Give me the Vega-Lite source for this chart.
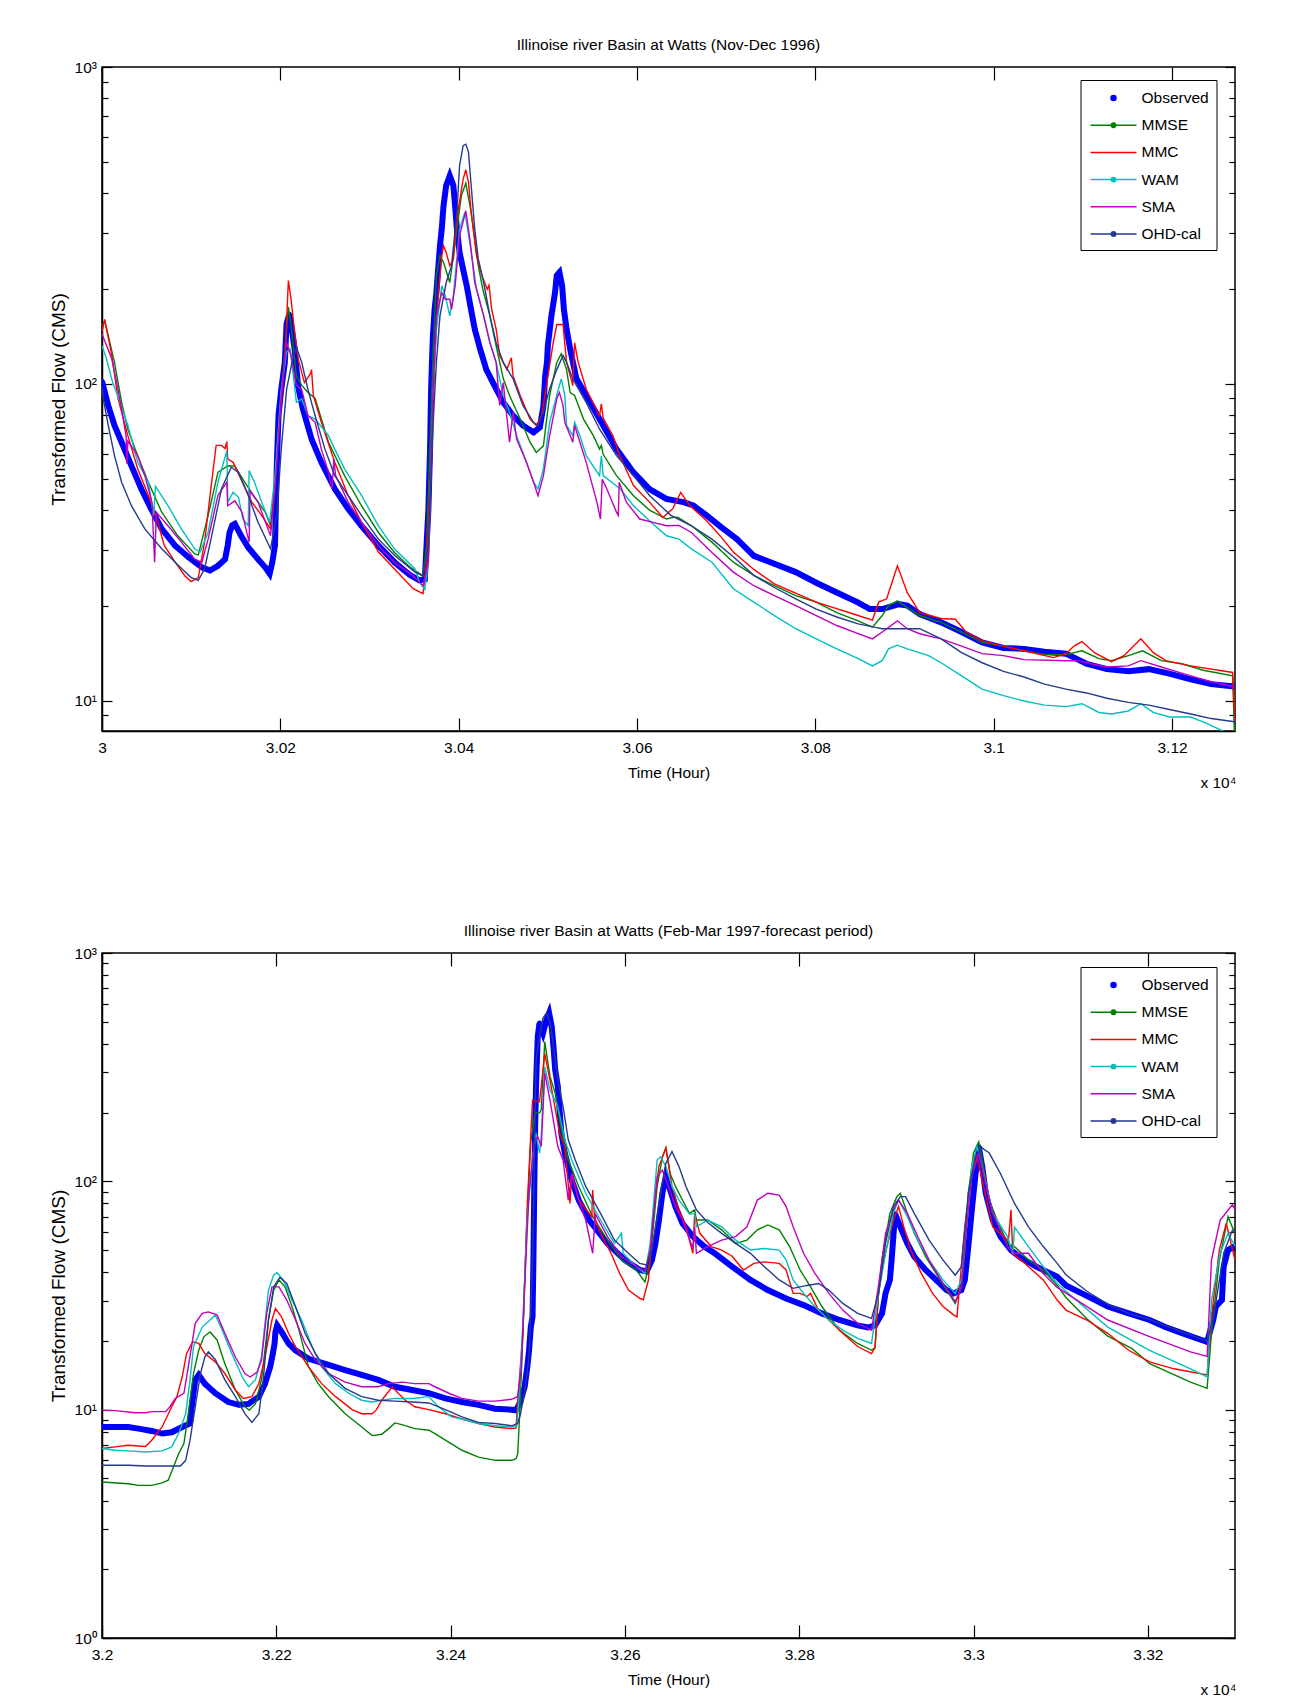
{
"$schema": "https://vega.github.io/schema/vega-lite/v6.json",
"background": "white",
"padding": {"left": 48, "top": 36, "right": 5, "bottom": 5},
"spacing": 130,
"resolve": {"scale": {"x": "independent", "y": "independent", "color": "independent"}, "legend": {"color": "independent"}},
"datasets": {
"top": [
{"s":"Observed","t":30000,"v":102},{"s":"Observed","t":30007,"v":85.5},{"s":"Observed","t":30014,"v":74},{"s":"Observed","t":30022,"v":65.5},{"s":"Observed","t":30033,"v":55.2},{"s":"Observed","t":30044,"v":46.7},{"s":"Observed","t":30055,"v":40.4},{"s":"Observed","t":30067,"v":34.9},{"s":"Observed","t":30082,"v":30.9},{"s":"Observed","t":30097,"v":28.4},{"s":"Observed","t":30112,"v":26.4},{"s":"Observed","t":30121,"v":25.8},{"s":"Observed","t":30130,"v":26.7},{"s":"Observed","t":30138,"v":28},{"s":"Observed","t":30141,"v":31},{"s":"Observed","t":30143,"v":34},{"s":"Observed","t":30146,"v":35.8},{"s":"Observed","t":30149,"v":36.2},{"s":"Observed","t":30156,"v":33.2},{"s":"Observed","t":30164,"v":30.5},{"s":"Observed","t":30175,"v":28},{"s":"Observed","t":30183,"v":26.4},{"s":"Observed","t":30188,"v":25.2},{"s":"Observed","t":30191,"v":27.4},{"s":"Observed","t":30194,"v":31},{"s":"Observed","t":30196,"v":55},{"s":"Observed","t":30198,"v":80},{"s":"Observed","t":30201,"v":96},{"s":"Observed","t":30205,"v":117},{"s":"Observed","t":30207,"v":155},{"s":"Observed","t":30210,"v":166},{"s":"Observed","t":30213,"v":148},{"s":"Observed","t":30216,"v":129},{"s":"Observed","t":30220,"v":98},{"s":"Observed","t":30225,"v":84},{"s":"Observed","t":30235,"v":67},{"s":"Observed","t":30246,"v":56.6},{"s":"Observed","t":30261,"v":46.7},{"s":"Observed","t":30276,"v":40.4},{"s":"Observed","t":30291,"v":35.7},{"s":"Observed","t":30310,"v":30.9},{"s":"Observed","t":30328,"v":27.4},{"s":"Observed","t":30345,"v":25},{"s":"Observed","t":30356,"v":24},{"s":"Observed","t":30362,"v":24.2},{"s":"Observed","t":30366,"v":40},{"s":"Observed","t":30368,"v":64},{"s":"Observed","t":30369,"v":94},{"s":"Observed","t":30370,"v":117},{"s":"Observed","t":30371,"v":140},{"s":"Observed","t":30373,"v":172},{"s":"Observed","t":30375,"v":194},{"s":"Observed","t":30377,"v":230},{"s":"Observed","t":30379,"v":273},{"s":"Observed","t":30381,"v":308},{"s":"Observed","t":30383,"v":365},{"s":"Observed","t":30386,"v":423},{"s":"Observed","t":30390,"v":454},{"s":"Observed","t":30394,"v":423},{"s":"Observed","t":30396,"v":365},{"s":"Observed","t":30398,"v":308},{"s":"Observed","t":30401,"v":260},{"s":"Observed","t":30405,"v":230},{"s":"Observed","t":30409,"v":204},{"s":"Observed","t":30413,"v":177},{"s":"Observed","t":30418,"v":149},{"s":"Observed","t":30424,"v":129},{"s":"Observed","t":30431,"v":111},{"s":"Observed","t":30440,"v":99},{"s":"Observed","t":30450,"v":87.5},{"s":"Observed","t":30461,"v":79.4},{"s":"Observed","t":30472,"v":74},{"s":"Observed","t":30484,"v":70.4},{"s":"Observed","t":30491,"v":73},{"s":"Observed","t":30495,"v":85},{"s":"Observed","t":30497,"v":106},{"s":"Observed","t":30499,"v":117},{"s":"Observed","t":30500,"v":132},{"s":"Observed","t":30504,"v":164},{"s":"Observed","t":30508,"v":194},{"s":"Observed","t":30510,"v":220},{"s":"Observed","t":30513,"v":225},{"s":"Observed","t":30516,"v":204},{"s":"Observed","t":30518,"v":172},{"s":"Observed","t":30521,"v":149},{"s":"Observed","t":30525,"v":129},{"s":"Observed","t":30532,"v":104},{"s":"Observed","t":30543,"v":92},{"s":"Observed","t":30558,"v":77.5},{"s":"Observed","t":30577,"v":62.3},{"s":"Observed","t":30596,"v":52.6},{"s":"Observed","t":30614,"v":46.6},{"s":"Observed","t":30633,"v":43.4},{"s":"Observed","t":30652,"v":42.4},{"s":"Observed","t":30663,"v":41.4},{"s":"Observed","t":30678,"v":38.5},{"s":"Observed","t":30694,"v":35.4},{"s":"Observed","t":30712,"v":32.4},{"s":"Observed","t":30731,"v":28.7},{"s":"Observed","t":30754,"v":27.1},{"s":"Observed","t":30778,"v":25.5},{"s":"Observed","t":30801,"v":23.6},{"s":"Observed","t":30824,"v":22},{"s":"Observed","t":30847,"v":20.5},{"s":"Observed","t":30861,"v":19.5},{"s":"Observed","t":30875,"v":19.5},{"s":"Observed","t":30894,"v":20.2},{"s":"Observed","t":30903,"v":20},{"s":"Observed","t":30917,"v":18.8},{"s":"Observed","t":30941,"v":17.7},{"s":"Observed","t":30964,"v":16.5},{"s":"Observed","t":30987,"v":15.3},{"s":"Observed","t":31011,"v":14.7},{"s":"Observed","t":31034,"v":14.6},{"s":"Observed","t":31057,"v":14.3},{"s":"Observed","t":31081,"v":14.1},{"s":"Observed","t":31104,"v":13.1},{"s":"Observed","t":31127,"v":12.6},{"s":"Observed","t":31151,"v":12.4},{"s":"Observed","t":31174,"v":12.6},{"s":"Observed","t":31197,"v":12.2},{"s":"Observed","t":31221,"v":11.7},{"s":"Observed","t":31244,"v":11.3},{"s":"Observed","t":31270,"v":11.1},
{"s":"MMSE","t":30000,"v":152},{"s":"MMSE","t":30003,"v":158},{"s":"MMSE","t":30007,"v":142},{"s":"MMSE","t":30014,"v":117},{"s":"MMSE","t":30022,"v":87.5},{"s":"MMSE","t":30029,"v":72},{"s":"MMSE","t":30040,"v":59.4},{"s":"MMSE","t":30052,"v":49},{"s":"MMSE","t":30067,"v":39.4},{"s":"MMSE","t":30085,"v":33.2},{"s":"MMSE","t":30104,"v":29.1},{"s":"MMSE","t":30108,"v":28.9},{"s":"MMSE","t":30119,"v":38.5},{"s":"MMSE","t":30130,"v":52.6},{"s":"MMSE","t":30141,"v":55.2},{"s":"MMSE","t":30149,"v":55},{"s":"MMSE","t":30160,"v":49},{"s":"MMSE","t":30171,"v":44},{"s":"MMSE","t":30183,"v":39.4},{"s":"MMSE","t":30189,"v":35.7},{"s":"MMSE","t":30194,"v":49},{"s":"MMSE","t":30199,"v":79},{"s":"MMSE","t":30205,"v":126},{"s":"MMSE","t":30209,"v":175},{"s":"MMSE","t":30212,"v":153},{"s":"MMSE","t":30218,"v":106},{"s":"MMSE","t":30224,"v":99},{"s":"MMSE","t":30231,"v":94},{"s":"MMSE","t":30239,"v":90},{"s":"MMSE","t":30254,"v":65.5},{"s":"MMSE","t":30272,"v":51.4},{"s":"MMSE","t":30291,"v":41.3},{"s":"MMSE","t":30310,"v":34},{"s":"MMSE","t":30328,"v":29.4},{"s":"MMSE","t":30345,"v":26.5},{"s":"MMSE","t":30360,"v":24.8},{"s":"MMSE","t":30364,"v":31},{"s":"MMSE","t":30371,"v":117},{"s":"MMSE","t":30375,"v":220},{"s":"MMSE","t":30379,"v":254},{"s":"MMSE","t":30383,"v":242},{"s":"MMSE","t":30390,"v":209},{"s":"MMSE","t":30398,"v":308},{"s":"MMSE","t":30403,"v":393},{"s":"MMSE","t":30408,"v":430},{"s":"MMSE","t":30414,"v":348},{"s":"MMSE","t":30422,"v":236},{"s":"MMSE","t":30427,"v":199},{"s":"MMSE","t":30435,"v":164},{"s":"MMSE","t":30442,"v":132},{"s":"MMSE","t":30450,"v":104},{"s":"MMSE","t":30457,"v":92},{"s":"MMSE","t":30469,"v":77.5},{"s":"MMSE","t":30480,"v":65.5},{"s":"MMSE","t":30487,"v":60.8},{"s":"MMSE","t":30495,"v":63.8},{"s":"MMSE","t":30502,"v":92},{"s":"MMSE","t":30510,"v":117},{"s":"MMSE","t":30515,"v":124.5},{"s":"MMSE","t":30521,"v":111},{"s":"MMSE","t":30525,"v":94},{"s":"MMSE","t":30530,"v":92},{"s":"MMSE","t":30540,"v":77.5},{"s":"MMSE","t":30551,"v":68.7},{"s":"MMSE","t":30558,"v":62.3},{"s":"MMSE","t":30560,"v":64},{"s":"MMSE","t":30562,"v":60},{"s":"MMSE","t":30577,"v":51.4},{"s":"MMSE","t":30596,"v":44.4},{"s":"MMSE","t":30614,"v":40},{"s":"MMSE","t":30633,"v":37.5},{"s":"MMSE","t":30642,"v":38},{"s":"MMSE","t":30646,"v":37.9},{"s":"MMSE","t":30661,"v":35.7},{"s":"MMSE","t":30684,"v":31.7},{"s":"MMSE","t":30708,"v":27.4},{"s":"MMSE","t":30731,"v":24.9},{"s":"MMSE","t":30754,"v":23.1},{"s":"MMSE","t":30778,"v":21.5},{"s":"MMSE","t":30801,"v":20.5},{"s":"MMSE","t":30824,"v":19},{"s":"MMSE","t":30848,"v":17.9},{"s":"MMSE","t":30864,"v":17.1},{"s":"MMSE","t":30875,"v":18.6},{"s":"MMSE","t":30882,"v":20},{"s":"MMSE","t":30892,"v":20.7},{"s":"MMSE","t":30903,"v":19.7},{"s":"MMSE","t":30917,"v":18.6},{"s":"MMSE","t":30941,"v":17.7},{"s":"MMSE","t":30964,"v":16.5},{"s":"MMSE","t":30987,"v":15.3},{"s":"MMSE","t":31011,"v":14.9},{"s":"MMSE","t":31034,"v":14.4},{"s":"MMSE","t":31057,"v":14},{"s":"MMSE","t":31081,"v":14},{"s":"MMSE","t":31099,"v":14.4},{"s":"MMSE","t":31118,"v":13.6},{"s":"MMSE","t":31132,"v":13.4},{"s":"MMSE","t":31151,"v":13.9},{"s":"MMSE","t":31167,"v":14.4},{"s":"MMSE","t":31188,"v":13.4},{"s":"MMSE","t":31211,"v":13.1},{"s":"MMSE","t":31235,"v":12.5},{"s":"MMSE","t":31268,"v":12},{"s":"MMSE","t":31270.5,"v":7},
{"s":"MMC","t":30000,"v":146},{"s":"MMC","t":30003,"v":160},{"s":"MMC","t":30011,"v":123},{"s":"MMC","t":30018,"v":90},{"s":"MMC","t":30029,"v":68.7},{"s":"MMC","t":30040,"v":54},{"s":"MMC","t":30052,"v":44.5},{"s":"MMC","t":30063,"v":36.6},{"s":"MMC","t":30067,"v":33},{"s":"MMC","t":30070,"v":30.9},{"s":"MMC","t":30082,"v":27.4},{"s":"MMC","t":30093,"v":24.8},{"s":"MMC","t":30100,"v":23.8},{"s":"MMC","t":30108,"v":24.5},{"s":"MMC","t":30115,"v":31.7},{"s":"MMC","t":30123,"v":49},{"s":"MMC","t":30128,"v":64},{"s":"MMC","t":30134,"v":64},{"s":"MMC","t":30138,"v":62.6},{"s":"MMC","t":30140,"v":65.8},{"s":"MMC","t":30141,"v":58},{"s":"MMC","t":30147,"v":56.6},{"s":"MMC","t":30156,"v":50},{"s":"MMC","t":30168,"v":42.4},{"s":"MMC","t":30179,"v":38.5},{"s":"MMC","t":30189,"v":34.9},{"s":"MMC","t":30194,"v":49},{"s":"MMC","t":30199,"v":75.7},{"s":"MMC","t":30205,"v":117},{"s":"MMC","t":30209,"v":212},{"s":"MMC","t":30212,"v":185},{"s":"MMC","t":30216,"v":146},{"s":"MMC","t":30220,"v":120},{"s":"MMC","t":30227,"v":101},{"s":"MMC","t":30234,"v":108},{"s":"MMC","t":30235,"v":111},{"s":"MMC","t":30237,"v":92},{"s":"MMC","t":30246,"v":75.7},{"s":"MMC","t":30261,"v":56.6},{"s":"MMC","t":30276,"v":44.5},{"s":"MMC","t":30291,"v":36.6},{"s":"MMC","t":30310,"v":29.5},{"s":"MMC","t":30328,"v":26.1},{"s":"MMC","t":30349,"v":22.6},{"s":"MMC","t":30360,"v":21.8},{"s":"MMC","t":30364,"v":27.4},{"s":"MMC","t":30369,"v":56.6},{"s":"MMC","t":30373,"v":117},{"s":"MMC","t":30377,"v":190},{"s":"MMC","t":30381,"v":254},{"s":"MMC","t":30383,"v":273},{"s":"MMC","t":30386,"v":260},{"s":"MMC","t":30390,"v":236},{"s":"MMC","t":30394,"v":247},{"s":"MMC","t":30399,"v":348},{"s":"MMC","t":30405,"v":443},{"s":"MMC","t":30408,"v":474},{"s":"MMC","t":30411,"v":433},{"s":"MMC","t":30414,"v":348},{"s":"MMC","t":30420,"v":254},{"s":"MMC","t":30426,"v":220},{"s":"MMC","t":30432,"v":199},{"s":"MMC","t":30434,"v":205},{"s":"MMC","t":30437,"v":172},{"s":"MMC","t":30442,"v":149},{"s":"MMC","t":30446,"v":123},{"s":"MMC","t":30454,"v":111},{"s":"MMC","t":30459,"v":121},{"s":"MMC","t":30461,"v":106},{"s":"MMC","t":30469,"v":92},{"s":"MMC","t":30480,"v":77.5},{"s":"MMC","t":30487,"v":73.9},{"s":"MMC","t":30493,"v":79.4},{"s":"MMC","t":30499,"v":101},{"s":"MMC","t":30506,"v":135},{"s":"MMC","t":30510,"v":154},{"s":"MMC","t":30517,"v":154},{"s":"MMC","t":30521,"v":117},{"s":"MMC","t":30528,"v":98.8},{"s":"MMC","t":30530,"v":135},{"s":"MMC","t":30534,"v":117},{"s":"MMC","t":30543,"v":96.4},{"s":"MMC","t":30558,"v":79.4},{"s":"MMC","t":30560,"v":86.5},{"s":"MMC","t":30562,"v":78},{"s":"MMC","t":30573,"v":68.7},{"s":"MMC","t":30580,"v":60},{"s":"MMC","t":30596,"v":47.8},{"s":"MMC","t":30614,"v":42.4},{"s":"MMC","t":30629,"v":37.9},{"s":"MMC","t":30640,"v":40.4},{"s":"MMC","t":30649,"v":45.5},{"s":"MMC","t":30659,"v":41.4},{"s":"MMC","t":30678,"v":37},{"s":"MMC","t":30694,"v":33},{"s":"MMC","t":30708,"v":29.5},{"s":"MMC","t":30731,"v":26},{"s":"MMC","t":30754,"v":23.4},{"s":"MMC","t":30801,"v":20.5},{"s":"MMC","t":30848,"v":18.6},{"s":"MMC","t":30864,"v":18},{"s":"MMC","t":30871,"v":20.5},{"s":"MMC","t":30880,"v":21},{"s":"MMC","t":30892,"v":26.7},{"s":"MMC","t":30903,"v":22},{"s":"MMC","t":30917,"v":19},{"s":"MMC","t":30941,"v":18.2},{"s":"MMC","t":30957,"v":18.1},{"s":"MMC","t":30969,"v":16.5},{"s":"MMC","t":30987,"v":15.5},{"s":"MMC","t":31010,"v":14.9},{"s":"MMC","t":31034,"v":14.4},{"s":"MMC","t":31067,"v":13.7},{"s":"MMC","t":31081,"v":14.1},{"s":"MMC","t":31090,"v":14.9},{"s":"MMC","t":31099,"v":15.4},{"s":"MMC","t":31113,"v":14.2},{"s":"MMC","t":31132,"v":13.3},{"s":"MMC","t":31146,"v":13.9},{"s":"MMC","t":31165,"v":15.7},{"s":"MMC","t":31179,"v":14.2},{"s":"MMC","t":31193,"v":13.4},{"s":"MMC","t":31221,"v":12.9},{"s":"MMC","t":31268,"v":12.3},{"s":"MMC","t":31270.5,"v":8.6},
{"s":"WAM","t":30000,"v":132},{"s":"WAM","t":30005,"v":120},{"s":"WAM","t":30012,"v":101},{"s":"WAM","t":30015,"v":96},{"s":"WAM","t":30024,"v":81.5},{"s":"WAM","t":30029,"v":74},{"s":"WAM","t":30040,"v":56.6},{"s":"WAM","t":30052,"v":49},{"s":"WAM","t":30058,"v":38.5},{"s":"WAM","t":30060,"v":47.5},{"s":"WAM","t":30074,"v":41.3},{"s":"WAM","t":30089,"v":34.9},{"s":"WAM","t":30104,"v":30.2},{"s":"WAM","t":30110,"v":29.5},{"s":"WAM","t":30119,"v":34},{"s":"WAM","t":30130,"v":49},{"s":"WAM","t":30140,"v":61.6},{"s":"WAM","t":30141,"v":42.4},{"s":"WAM","t":30147,"v":45.5},{"s":"WAM","t":30153,"v":44},{"s":"WAM","t":30158,"v":37.5},{"s":"WAM","t":30164,"v":35.7},{"s":"WAM","t":30165,"v":53.3},{"s":"WAM","t":30171,"v":49},{"s":"WAM","t":30179,"v":42.4},{"s":"WAM","t":30188,"v":36.6},{"s":"WAM","t":30194,"v":51.4},{"s":"WAM","t":30201,"v":96},{"s":"WAM","t":30207,"v":126},{"s":"WAM","t":30211,"v":129},{"s":"WAM","t":30218,"v":87.5},{"s":"WAM","t":30224,"v":89.8},{"s":"WAM","t":30231,"v":79.4},{"s":"WAM","t":30239,"v":77.5},{"s":"WAM","t":30254,"v":68.7},{"s":"WAM","t":30261,"v":62.3},{"s":"WAM","t":30272,"v":54},{"s":"WAM","t":30291,"v":44.5},{"s":"WAM","t":30310,"v":35.7},{"s":"WAM","t":30328,"v":30.2},{"s":"WAM","t":30351,"v":26.1},{"s":"WAM","t":30356,"v":23.7},{"s":"WAM","t":30362,"v":22.5},{"s":"WAM","t":30366,"v":27.4},{"s":"WAM","t":30371,"v":92},{"s":"WAM","t":30375,"v":149},{"s":"WAM","t":30381,"v":204},{"s":"WAM","t":30385,"v":190},{"s":"WAM","t":30390,"v":164},{"s":"WAM","t":30394,"v":190},{"s":"WAM","t":30401,"v":308},{"s":"WAM","t":30407,"v":348},{"s":"WAM","t":30413,"v":273},{"s":"WAM","t":30420,"v":199},{"s":"WAM","t":30428,"v":164},{"s":"WAM","t":30435,"v":135},{"s":"WAM","t":30442,"v":117},{"s":"WAM","t":30450,"v":92},{"s":"WAM","t":30457,"v":81.5},{"s":"WAM","t":30465,"v":68.7},{"s":"WAM","t":30476,"v":56.6},{"s":"WAM","t":30484,"v":49},{"s":"WAM","t":30489,"v":46.7},{"s":"WAM","t":30495,"v":54},{"s":"WAM","t":30502,"v":75.7},{"s":"WAM","t":30510,"v":92},{"s":"WAM","t":30515,"v":103.8},{"s":"WAM","t":30519,"v":92},{"s":"WAM","t":30521,"v":74},{"s":"WAM","t":30528,"v":68.7},{"s":"WAM","t":30530,"v":75.7},{"s":"WAM","t":30536,"v":68.7},{"s":"WAM","t":30543,"v":59.4},{"s":"WAM","t":30558,"v":51.4},{"s":"WAM","t":30560,"v":59.4},{"s":"WAM","t":30562,"v":51.4},{"s":"WAM","t":30581,"v":46.7},{"s":"WAM","t":30596,"v":41.3},{"s":"WAM","t":30614,"v":37},{"s":"WAM","t":30633,"v":33.2},{"s":"WAM","t":30647,"v":32.4},{"s":"WAM","t":30661,"v":30.2},{"s":"WAM","t":30684,"v":27.4},{"s":"WAM","t":30708,"v":22.6},{"s":"WAM","t":30731,"v":20.5},{"s":"WAM","t":30754,"v":18.6},{"s":"WAM","t":30778,"v":16.9},{"s":"WAM","t":30801,"v":15.7},{"s":"WAM","t":30824,"v":14.6},{"s":"WAM","t":30848,"v":13.6},{"s":"WAM","t":30864,"v":12.9},{"s":"WAM","t":30875,"v":13.4},{"s":"WAM","t":30882,"v":14.6},{"s":"WAM","t":30892,"v":15},{"s":"WAM","t":30903,"v":14.6},{"s":"WAM","t":30927,"v":13.9},{"s":"WAM","t":30941,"v":13.2},{"s":"WAM","t":30964,"v":12},{"s":"WAM","t":30987,"v":10.9},{"s":"WAM","t":31011,"v":10.4},{"s":"WAM","t":31034,"v":10},{"s":"WAM","t":31057,"v":9.7},{"s":"WAM","t":31081,"v":9.6},{"s":"WAM","t":31099,"v":9.8},{"s":"WAM","t":31118,"v":9.2},{"s":"WAM","t":31132,"v":9.1},{"s":"WAM","t":31151,"v":9.3},{"s":"WAM","t":31165,"v":9.8},{"s":"WAM","t":31179,"v":9.2},{"s":"WAM","t":31197,"v":8.9},{"s":"WAM","t":31221,"v":8.9},{"s":"WAM","t":31239,"v":8.5},{"s":"WAM","t":31256,"v":8.06},{"s":"WAM","t":31270,"v":7.6},
{"s":"SMA","t":30000,"v":144},{"s":"SMA","t":30003,"v":137},{"s":"SMA","t":30011,"v":120},{"s":"SMA","t":30018,"v":96},{"s":"SMA","t":30022,"v":83},{"s":"SMA","t":30027,"v":68.7},{"s":"SMA","t":30028,"v":56},{"s":"SMA","t":30029,"v":66},{"s":"SMA","t":30040,"v":59.4},{"s":"SMA","t":30048,"v":51.4},{"s":"SMA","t":30056,"v":42.4},{"s":"SMA","t":30059,"v":27.4},{"s":"SMA","t":30061,"v":39.4},{"s":"SMA","t":30074,"v":35.7},{"s":"SMA","t":30089,"v":31.7},{"s":"SMA","t":30104,"v":28},{"s":"SMA","t":30112,"v":27.4},{"s":"SMA","t":30119,"v":32.4},{"s":"SMA","t":30130,"v":44.5},{"s":"SMA","t":30140,"v":49},{"s":"SMA","t":30141,"v":41.3},{"s":"SMA","t":30149,"v":42.8},{"s":"SMA","t":30157,"v":39.4},{"s":"SMA","t":30165,"v":31.7},{"s":"SMA","t":30166,"v":46},{"s":"SMA","t":30175,"v":42.4},{"s":"SMA","t":30189,"v":33.2},{"s":"SMA","t":30194,"v":46.7},{"s":"SMA","t":30201,"v":92},{"s":"SMA","t":30207,"v":135},{"s":"SMA","t":30212,"v":123},{"s":"SMA","t":30218,"v":99},{"s":"SMA","t":30224,"v":96},{"s":"SMA","t":30231,"v":79.4},{"s":"SMA","t":30239,"v":75.7},{"s":"SMA","t":30246,"v":62.3},{"s":"SMA","t":30254,"v":52.6},{"s":"SMA","t":30258,"v":46.7},{"s":"SMA","t":30260,"v":58},{"s":"SMA","t":30262,"v":51.4},{"s":"SMA","t":30276,"v":42.4},{"s":"SMA","t":30291,"v":36.6},{"s":"SMA","t":30310,"v":30.9},{"s":"SMA","t":30328,"v":27.4},{"s":"SMA","t":30351,"v":24.5},{"s":"SMA","t":30360,"v":23.1},{"s":"SMA","t":30366,"v":27.4},{"s":"SMA","t":30371,"v":92},{"s":"SMA","t":30375,"v":164},{"s":"SMA","t":30381,"v":194},{"s":"SMA","t":30385,"v":185},{"s":"SMA","t":30390,"v":185},{"s":"SMA","t":30392,"v":172},{"s":"SMA","t":30396,"v":204},{"s":"SMA","t":30401,"v":294},{"s":"SMA","t":30408,"v":352},{"s":"SMA","t":30413,"v":280},{"s":"SMA","t":30418,"v":209},{"s":"SMA","t":30428,"v":164},{"s":"SMA","t":30435,"v":135},{"s":"SMA","t":30442,"v":117},{"s":"SMA","t":30446,"v":85.6},{"s":"SMA","t":30450,"v":101},{"s":"SMA","t":30457,"v":65.5},{"s":"SMA","t":30461,"v":81.5},{"s":"SMA","t":30465,"v":66.9},{"s":"SMA","t":30476,"v":56.6},{"s":"SMA","t":30484,"v":49},{"s":"SMA","t":30489,"v":44.4},{"s":"SMA","t":30495,"v":51.4},{"s":"SMA","t":30502,"v":68.7},{"s":"SMA","t":30510,"v":89.8},{"s":"SMA","t":30513,"v":94},{"s":"SMA","t":30517,"v":85.6},{"s":"SMA","t":30519,"v":75.7},{"s":"SMA","t":30528,"v":65.5},{"s":"SMA","t":30530,"v":74},{"s":"SMA","t":30536,"v":65.5},{"s":"SMA","t":30543,"v":56.6},{"s":"SMA","t":30555,"v":42.4},{"s":"SMA","t":30559,"v":37.5},{"s":"SMA","t":30561,"v":50},{"s":"SMA","t":30566,"v":46.7},{"s":"SMA","t":30577,"v":39.4},{"s":"SMA","t":30579,"v":38.5},{"s":"SMA","t":30580,"v":49},{"s":"SMA","t":30588,"v":42.4},{"s":"SMA","t":30603,"v":37.5},{"s":"SMA","t":30618,"v":36.6},{"s":"SMA","t":30633,"v":35.7},{"s":"SMA","t":30647,"v":35.8},{"s":"SMA","t":30661,"v":34},{"s":"SMA","t":30684,"v":29.4},{"s":"SMA","t":30708,"v":25.5},{"s":"SMA","t":30731,"v":23.1},{"s":"SMA","t":30754,"v":21.5},{"s":"SMA","t":30778,"v":20},{"s":"SMA","t":30801,"v":18.6},{"s":"SMA","t":30824,"v":17.3},{"s":"SMA","t":30848,"v":16.3},{"s":"SMA","t":30864,"v":15.7},{"s":"SMA","t":30875,"v":16.5},{"s":"SMA","t":30892,"v":17.9},{"s":"SMA","t":30903,"v":16.9},{"s":"SMA","t":30917,"v":16.3},{"s":"SMA","t":30941,"v":15.7},{"s":"SMA","t":30964,"v":14.9},{"s":"SMA","t":30987,"v":14.1},{"s":"SMA","t":31011,"v":13.9},{"s":"SMA","t":31034,"v":13.5},{"s":"SMA","t":31081,"v":13.4},{"s":"SMA","t":31095,"v":13.4},{"s":"SMA","t":31109,"v":13.1},{"s":"SMA","t":31127,"v":12.8},{"s":"SMA","t":31151,"v":12.9},{"s":"SMA","t":31165,"v":13.4},{"s":"SMA","t":31188,"v":12.8},{"s":"SMA","t":31221,"v":12},{"s":"SMA","t":31244,"v":11.5},{"s":"SMA","t":31270,"v":11.1},
{"s":"OHD-cal","t":30000,"v":98},{"s":"OHD-cal","t":30002,"v":88},{"s":"OHD-cal","t":30007,"v":74},{"s":"OHD-cal","t":30014,"v":59.4},{"s":"OHD-cal","t":30022,"v":49},{"s":"OHD-cal","t":30033,"v":41.3},{"s":"OHD-cal","t":30048,"v":34.9},{"s":"OHD-cal","t":30067,"v":30.2},{"s":"OHD-cal","t":30086,"v":26.7},{"s":"OHD-cal","t":30100,"v":24.5},{"s":"OHD-cal","t":30108,"v":24},{"s":"OHD-cal","t":30115,"v":26.1},{"s":"OHD-cal","t":30123,"v":33.2},{"s":"OHD-cal","t":30134,"v":46.7},{"s":"OHD-cal","t":30145,"v":54.6},{"s":"OHD-cal","t":30153,"v":52.6},{"s":"OHD-cal","t":30164,"v":44.5},{"s":"OHD-cal","t":30175,"v":36.6},{"s":"OHD-cal","t":30189,"v":30.2},{"s":"OHD-cal","t":30196,"v":38.5},{"s":"OHD-cal","t":30201,"v":62.3},{"s":"OHD-cal","t":30207,"v":96},{"s":"OHD-cal","t":30213,"v":117},{"s":"OHD-cal","t":30218,"v":130.6},{"s":"OHD-cal","t":30224,"v":117},{"s":"OHD-cal","t":30231,"v":96},{"s":"OHD-cal","t":30239,"v":79.4},{"s":"OHD-cal","t":30250,"v":62.3},{"s":"OHD-cal","t":30261,"v":51.4},{"s":"OHD-cal","t":30276,"v":44.5},{"s":"OHD-cal","t":30291,"v":38.5},{"s":"OHD-cal","t":30310,"v":32.4},{"s":"OHD-cal","t":30328,"v":28.8},{"s":"OHD-cal","t":30351,"v":25.5},{"s":"OHD-cal","t":30360,"v":24.8},{"s":"OHD-cal","t":30366,"v":30.9},{"s":"OHD-cal","t":30371,"v":72},{"s":"OHD-cal","t":30375,"v":117},{"s":"OHD-cal","t":30379,"v":164},{"s":"OHD-cal","t":30386,"v":209},{"s":"OHD-cal","t":30392,"v":236},{"s":"OHD-cal","t":30398,"v":348},{"s":"OHD-cal","t":30401,"v":489},{"s":"OHD-cal","t":30405,"v":565},{"s":"OHD-cal","t":30408,"v":571},{"s":"OHD-cal","t":30411,"v":539},{"s":"OHD-cal","t":30414,"v":423},{"s":"OHD-cal","t":30418,"v":308},{"s":"OHD-cal","t":30422,"v":248},{"s":"OHD-cal","t":30428,"v":209},{"s":"OHD-cal","t":30435,"v":164},{"s":"OHD-cal","t":30442,"v":135},{"s":"OHD-cal","t":30450,"v":117},{"s":"OHD-cal","t":30461,"v":103.8},{"s":"OHD-cal","t":30472,"v":85.6},{"s":"OHD-cal","t":30484,"v":75.7},{"s":"OHD-cal","t":30489,"v":74},{"s":"OHD-cal","t":30495,"v":81.5},{"s":"OHD-cal","t":30502,"v":96.5},{"s":"OHD-cal","t":30510,"v":111},{"s":"OHD-cal","t":30517,"v":123},{"s":"OHD-cal","t":30521,"v":117},{"s":"OHD-cal","t":30528,"v":103.8},{"s":"OHD-cal","t":30543,"v":87.5},{"s":"OHD-cal","t":30558,"v":72},{"s":"OHD-cal","t":30577,"v":59.4},{"s":"OHD-cal","t":30596,"v":51.4},{"s":"OHD-cal","t":30614,"v":44.5},{"s":"OHD-cal","t":30638,"v":38.5},{"s":"OHD-cal","t":30661,"v":35.7},{"s":"OHD-cal","t":30684,"v":32.4},{"s":"OHD-cal","t":30708,"v":28.5},{"s":"OHD-cal","t":30731,"v":24.9},{"s":"OHD-cal","t":30754,"v":22.8},{"s":"OHD-cal","t":30778,"v":21},{"s":"OHD-cal","t":30801,"v":19.5},{"s":"OHD-cal","t":30824,"v":18.4},{"s":"OHD-cal","t":30848,"v":17.5},{"s":"OHD-cal","t":30866,"v":17.1},{"s":"OHD-cal","t":30875,"v":16.9},{"s":"OHD-cal","t":30894,"v":16.9},{"s":"OHD-cal","t":30917,"v":16.9},{"s":"OHD-cal","t":30941,"v":15.7},{"s":"OHD-cal","t":30964,"v":14.2},{"s":"OHD-cal","t":30987,"v":13.2},{"s":"OHD-cal","t":31011,"v":12.4},{"s":"OHD-cal","t":31034,"v":11.9},{"s":"OHD-cal","t":31057,"v":11.3},{"s":"OHD-cal","t":31081,"v":10.9},{"s":"OHD-cal","t":31104,"v":10.6},{"s":"OHD-cal","t":31127,"v":10.2},{"s":"OHD-cal","t":31151,"v":9.9},{"s":"OHD-cal","t":31174,"v":9.7},{"s":"OHD-cal","t":31197,"v":9.4},{"s":"OHD-cal","t":31221,"v":9.1},{"s":"OHD-cal","t":31244,"v":8.8},{"s":"OHD-cal","t":31270,"v":8.6}
],
"bot": [
{"s":"Observed","t":32000,"v":8.4},{"s":"Observed","t":32015,"v":8.4},{"s":"Observed","t":32030,"v":8.4},{"s":"Observed","t":32042,"v":8.26},{"s":"Observed","t":32057,"v":8.07},{"s":"Observed","t":32069,"v":7.86},{"s":"Observed","t":32080,"v":7.96},{"s":"Observed","t":32092,"v":8.4},{"s":"Observed","t":32101,"v":8.7},{"s":"Observed","t":32103,"v":10.3},{"s":"Observed","t":32105,"v":11.8},{"s":"Observed","t":32107,"v":13.5},{"s":"Observed","t":32111,"v":14.2},{"s":"Observed","t":32118,"v":13},{"s":"Observed","t":32130,"v":11.8},{"s":"Observed","t":32145,"v":10.8},{"s":"Observed","t":32157,"v":10.5},{"s":"Observed","t":32168,"v":10.6},{"s":"Observed","t":32180,"v":11.4},{"s":"Observed","t":32187,"v":13},{"s":"Observed","t":32193,"v":15.4},{"s":"Observed","t":32196,"v":17.6},{"s":"Observed","t":32198,"v":19.5},{"s":"Observed","t":32199,"v":21.9},{"s":"Observed","t":32201,"v":23.4},{"s":"Observed","t":32206,"v":21.9},{"s":"Observed","t":32214,"v":19.5},{"s":"Observed","t":32222,"v":18.2},{"s":"Observed","t":32237,"v":16.7},{"s":"Observed","t":32260,"v":15.7},{"s":"Observed","t":32279,"v":14.9},{"s":"Observed","t":32298,"v":14.2},{"s":"Observed","t":32317,"v":13.5},{"s":"Observed","t":32336,"v":12.6},{"s":"Observed","t":32356,"v":12.2},{"s":"Observed","t":32375,"v":11.8},{"s":"Observed","t":32394,"v":11.2},{"s":"Observed","t":32413,"v":10.8},{"s":"Observed","t":32432,"v":10.5},{"s":"Observed","t":32451,"v":10.1},{"s":"Observed","t":32470,"v":10},{"s":"Observed","t":32475,"v":9.95},{"s":"Observed","t":32480,"v":10.8},{"s":"Observed","t":32485,"v":12.6},{"s":"Observed","t":32488,"v":15.4},{"s":"Observed","t":32490,"v":18.2},{"s":"Observed","t":32492,"v":23},{"s":"Observed","t":32494,"v":25.5},{"s":"Observed","t":32495,"v":45},{"s":"Observed","t":32496,"v":95},{"s":"Observed","t":32497,"v":174},{"s":"Observed","t":32498,"v":260},{"s":"Observed","t":32499,"v":340},{"s":"Observed","t":32500,"v":431},{"s":"Observed","t":32502,"v":493},{"s":"Observed","t":32506,"v":446},{"s":"Observed","t":32510,"v":510},{"s":"Observed","t":32513,"v":546},{"s":"Observed","t":32516,"v":476},{"s":"Observed","t":32518,"v":390},{"s":"Observed","t":32520,"v":308},{"s":"Observed","t":32523,"v":260},{"s":"Observed","t":32525,"v":206},{"s":"Observed","t":32527,"v":163},{"s":"Observed","t":32531,"v":133},{"s":"Observed","t":32535,"v":116},{"s":"Observed","t":32539,"v":101},{"s":"Observed","t":32547,"v":82.8},{"s":"Observed","t":32559,"v":67.7},{"s":"Observed","t":32580,"v":53.5},{"s":"Observed","t":32600,"v":45.2},{"s":"Observed","t":32617,"v":40.9},{"s":"Observed","t":32625,"v":40.3},{"s":"Observed","t":32631,"v":45.2},{"s":"Observed","t":32635,"v":53.5},{"s":"Observed","t":32639,"v":67.7},{"s":"Observed","t":32643,"v":88.7},{"s":"Observed","t":32647,"v":105},{"s":"Observed","t":32652,"v":91.6},{"s":"Observed","t":32658,"v":77.5},{"s":"Observed","t":32666,"v":65.5},{"s":"Observed","t":32678,"v":57.3},{"s":"Observed","t":32691,"v":51.8},{"s":"Observed","t":32703,"v":48.4},{"s":"Observed","t":32723,"v":42.3},{"s":"Observed","t":32744,"v":37},{"s":"Observed","t":32764,"v":33.4},{"s":"Observed","t":32785,"v":30.7},{"s":"Observed","t":32805,"v":28.7},{"s":"Observed","t":32826,"v":26.4},{"s":"Observed","t":32846,"v":24.7},{"s":"Observed","t":32867,"v":23.4},{"s":"Observed","t":32879,"v":22.9},{"s":"Observed","t":32887,"v":23.4},{"s":"Observed","t":32895,"v":26.4},{"s":"Observed","t":32899,"v":32.3},{"s":"Observed","t":32904,"v":37},{"s":"Observed","t":32906,"v":45.2},{"s":"Observed","t":32908,"v":57.3},{"s":"Observed","t":32910,"v":72},{"s":"Observed","t":32916,"v":63.2},{"s":"Observed","t":32924,"v":53.5},{"s":"Observed","t":32932,"v":46.8},{"s":"Observed","t":32945,"v":40.9},{"s":"Observed","t":32957,"v":37},{"s":"Observed","t":32969,"v":33.4},{"s":"Observed","t":32977,"v":32.3},{"s":"Observed","t":32986,"v":33.4},{"s":"Observed","t":32990,"v":37},{"s":"Observed","t":32994,"v":51.8},{"s":"Observed","t":32998,"v":75},{"s":"Observed","t":33002,"v":105},{"s":"Observed","t":33006,"v":142},{"s":"Observed","t":33010,"v":116},{"s":"Observed","t":33014,"v":88.7},{"s":"Observed","t":33022,"v":67.7},{"s":"Observed","t":33031,"v":57.3},{"s":"Observed","t":33043,"v":50},{"s":"Observed","t":33055,"v":46},{"s":"Observed","t":33072,"v":42.3},{"s":"Observed","t":33096,"v":38.2},{"s":"Observed","t":33106,"v":35},{"s":"Observed","t":33130,"v":31.5},{"s":"Observed","t":33154,"v":28.3},{"s":"Observed","t":33178,"v":26.4},{"s":"Observed","t":33202,"v":24.7},{"s":"Observed","t":33220,"v":23},{"s":"Observed","t":33240,"v":21.6},{"s":"Observed","t":33255,"v":20.6},{"s":"Observed","t":33268,"v":19.8},{"s":"Observed","t":33275,"v":24.7},{"s":"Observed","t":33278,"v":28.3},{"s":"Observed","t":33285,"v":30.2},{"s":"Observed","t":33287,"v":42.3},{"s":"Observed","t":33292,"v":50},{"s":"Observed","t":33300,"v":52},
{"s":"MMSE","t":32000,"v":4.82},{"s":"MMSE","t":32030,"v":4.74},{"s":"MMSE","t":32042,"v":4.66},{"s":"MMSE","t":32057,"v":4.66},{"s":"MMSE","t":32069,"v":4.78},{"s":"MMSE","t":32076,"v":4.91},{"s":"MMSE","t":32082,"v":5.61},{"s":"MMSE","t":32088,"v":6.42},{"s":"MMSE","t":32094,"v":7.1},{"s":"MMSE","t":32099,"v":9.6},{"s":"MMSE","t":32105,"v":14.4},{"s":"MMSE","t":32111,"v":18.2},{"s":"MMSE","t":32117,"v":20.9},{"s":"MMSE","t":32124,"v":21.9},{"s":"MMSE","t":32132,"v":20.2},{"s":"MMSE","t":32141,"v":15.9},{"s":"MMSE","t":32153,"v":12.2},{"s":"MMSE","t":32164,"v":10.3},{"s":"MMSE","t":32169,"v":9.95},{"s":"MMSE","t":32176,"v":10.6},{"s":"MMSE","t":32183,"v":13.5},{"s":"MMSE","t":32191,"v":24.7},{"s":"MMSE","t":32197,"v":33.4},{"s":"MMSE","t":32203,"v":37},{"s":"MMSE","t":32210,"v":34.5},{"s":"MMSE","t":32218,"v":28.3},{"s":"MMSE","t":32226,"v":22.3},{"s":"MMSE","t":32237,"v":15.4},{"s":"MMSE","t":32248,"v":13},{"s":"MMSE","t":32260,"v":11.4},{"s":"MMSE","t":32279,"v":9.6},{"s":"MMSE","t":32298,"v":8.4},{"s":"MMSE","t":32310,"v":7.7},{"s":"MMSE","t":32321,"v":7.8},{"s":"MMSE","t":32329,"v":8.26},{"s":"MMSE","t":32336,"v":8.75},{"s":"MMSE","t":32344,"v":8.6},{"s":"MMSE","t":32359,"v":8.26},{"s":"MMSE","t":32375,"v":8.13},{"s":"MMSE","t":32382,"v":7.86},{"s":"MMSE","t":32394,"v":7.35},{"s":"MMSE","t":32413,"v":6.64},{"s":"MMSE","t":32432,"v":6.2},{"s":"MMSE","t":32451,"v":6},{"s":"MMSE","t":32470,"v":6},{"s":"MMSE","t":32475,"v":6.1},{"s":"MMSE","t":32477,"v":6.4},{"s":"MMSE","t":32480,"v":11},{"s":"MMSE","t":32483,"v":22},{"s":"MMSE","t":32487,"v":60},{"s":"MMSE","t":32492,"v":150},{"s":"MMSE","t":32497,"v":200},{"s":"MMSE","t":32502,"v":199},{"s":"MMSE","t":32504,"v":206},{"s":"MMSE","t":32508,"v":409},{"s":"MMSE","t":32514,"v":288},{"s":"MMSE","t":32520,"v":243},{"s":"MMSE","t":32527,"v":168},{"s":"MMSE","t":32535,"v":124},{"s":"MMSE","t":32547,"v":95},{"s":"MMSE","t":32563,"v":70},{"s":"MMSE","t":32580,"v":55.3},{"s":"MMSE","t":32596,"v":45.2},{"s":"MMSE","t":32613,"v":40.9},{"s":"MMSE","t":32623,"v":36.3},{"s":"MMSE","t":32629,"v":45.2},{"s":"MMSE","t":32637,"v":94.9},{"s":"MMSE","t":32643,"v":128},{"s":"MMSE","t":32647,"v":140},{"s":"MMSE","t":32652,"v":108},{"s":"MMSE","t":32658,"v":95},{"s":"MMSE","t":32666,"v":82.8},{"s":"MMSE","t":32674,"v":72.4},{"s":"MMSE","t":32680,"v":75},{"s":"MMSE","t":32682,"v":67.7},{"s":"MMSE","t":32695,"v":67.7},{"s":"MMSE","t":32711,"v":61.3},{"s":"MMSE","t":32727,"v":53.5},{"s":"MMSE","t":32740,"v":55.3},{"s":"MMSE","t":32752,"v":61.3},{"s":"MMSE","t":32764,"v":64.4},{"s":"MMSE","t":32777,"v":61.3},{"s":"MMSE","t":32789,"v":51.8},{"s":"MMSE","t":32801,"v":40.9},{"s":"MMSE","t":32813,"v":34.5},{"s":"MMSE","t":32826,"v":28.3},{"s":"MMSE","t":32846,"v":22.3},{"s":"MMSE","t":32867,"v":19.5},{"s":"MMSE","t":32883,"v":18.2},{"s":"MMSE","t":32887,"v":18.7},{"s":"MMSE","t":32891,"v":32.3},{"s":"MMSE","t":32895,"v":45.2},{"s":"MMSE","t":32904,"v":72.4},{"s":"MMSE","t":32912,"v":85.7},{"s":"MMSE","t":32916,"v":88.7},{"s":"MMSE","t":32924,"v":72.4},{"s":"MMSE","t":32932,"v":59.2},{"s":"MMSE","t":32945,"v":46.8},{"s":"MMSE","t":32957,"v":39.5},{"s":"MMSE","t":32969,"v":33.4},{"s":"MMSE","t":32979,"v":29.2},{"s":"MMSE","t":32986,"v":34.3},{"s":"MMSE","t":32990,"v":48.4},{"s":"MMSE","t":32994,"v":88.7},{"s":"MMSE","t":33000,"v":133},{"s":"MMSE","t":33006,"v":149},{"s":"MMSE","t":33010,"v":124},{"s":"MMSE","t":33018,"v":82.8},{"s":"MMSE","t":33027,"v":67.7},{"s":"MMSE","t":33039,"v":53.5},{"s":"MMSE","t":33047,"v":51.8},{"s":"MMSE","t":33063,"v":45.2},{"s":"MMSE","t":33080,"v":40.9},{"s":"MMSE","t":33096,"v":35},{"s":"MMSE","t":33106,"v":31},{"s":"MMSE","t":33130,"v":25},{"s":"MMSE","t":33154,"v":21},{"s":"MMSE","t":33182,"v":18.5},{"s":"MMSE","t":33202,"v":15.9},{"s":"MMSE","t":33249,"v":13.2},{"s":"MMSE","t":33268,"v":12.4},{"s":"MMSE","t":33273,"v":21.6},{"s":"MMSE","t":33282,"v":45},{"s":"MMSE","t":33292,"v":70},{"s":"MMSE","t":33300,"v":59},
{"s":"MMC","t":32000,"v":6.76},{"s":"MMC","t":32015,"v":6.87},{"s":"MMC","t":32030,"v":6.98},{"s":"MMC","t":32050,"v":6.9},{"s":"MMC","t":32057,"v":7.35},{"s":"MMC","t":32069,"v":8.4},{"s":"MMC","t":32080,"v":10.3},{"s":"MMC","t":32086,"v":11.4},{"s":"MMC","t":32092,"v":13.9},{"s":"MMC","t":32097,"v":17.6},{"s":"MMC","t":32104,"v":19.8},{"s":"MMC","t":32111,"v":19.5},{"s":"MMC","t":32118,"v":17.6},{"s":"MMC","t":32130,"v":16.2},{"s":"MMC","t":32141,"v":14.4},{"s":"MMC","t":32153,"v":12.2},{"s":"MMC","t":32162,"v":11.2},{"s":"MMC","t":32172,"v":11.4},{"s":"MMC","t":32180,"v":13},{"s":"MMC","t":32187,"v":17},{"s":"MMC","t":32195,"v":24.7},{"s":"MMC","t":32199,"v":27.7},{"s":"MMC","t":32206,"v":25.5},{"s":"MMC","t":32214,"v":21.6},{"s":"MMC","t":32222,"v":18.9},{"s":"MMC","t":32237,"v":15.4},{"s":"MMC","t":32252,"v":13},{"s":"MMC","t":32268,"v":11.4},{"s":"MMC","t":32287,"v":10},{"s":"MMC","t":32298,"v":9.6},{"s":"MMC","t":32310,"v":9.6},{"s":"MMC","t":32315,"v":10},{"s":"MMC","t":32321,"v":11},{"s":"MMC","t":32333,"v":12.6},{"s":"MMC","t":32340,"v":11.8},{"s":"MMC","t":32348,"v":11},{"s":"MMC","t":32359,"v":10.3},{"s":"MMC","t":32375,"v":10},{"s":"MMC","t":32394,"v":9.6},{"s":"MMC","t":32413,"v":9.1},{"s":"MMC","t":32432,"v":8.7},{"s":"MMC","t":32451,"v":8.4},{"s":"MMC","t":32470,"v":8.26},{"s":"MMC","t":32475,"v":8.3},{"s":"MMC","t":32477,"v":11},{"s":"MMC","t":32483,"v":21.6},{"s":"MMC","t":32488,"v":80},{"s":"MMC","t":32494,"v":227},{"s":"MMC","t":32502,"v":223},{"s":"MMC","t":32508,"v":362},{"s":"MMC","t":32514,"v":278},{"s":"MMC","t":32525,"v":163},{"s":"MMC","t":32531,"v":142},{"s":"MMC","t":32537,"v":80},{"s":"MMC","t":32539,"v":108},{"s":"MMC","t":32547,"v":82.8},{"s":"MMC","t":32562,"v":70},{"s":"MMC","t":32563,"v":91.6},{"s":"MMC","t":32565,"v":70},{"s":"MMC","t":32572,"v":59.2},{"s":"MMC","t":32584,"v":48.4},{"s":"MMC","t":32594,"v":39.5},{"s":"MMC","t":32604,"v":33.4},{"s":"MMC","t":32617,"v":30.7},{"s":"MMC","t":32621,"v":30.3},{"s":"MMC","t":32627,"v":37},{"s":"MMC","t":32633,"v":75},{"s":"MMC","t":32639,"v":116},{"s":"MMC","t":32647,"v":140},{"s":"MMC","t":32654,"v":95},{"s":"MMC","t":32662,"v":75},{"s":"MMC","t":32670,"v":63.4},{"s":"MMC","t":32678,"v":48.4},{"s":"MMC","t":32680,"v":72},{"s":"MMC","t":32686,"v":59.2},{"s":"MMC","t":32699,"v":51.8},{"s":"MMC","t":32711,"v":50},{"s":"MMC","t":32723,"v":47},{"s":"MMC","t":32736,"v":40.9},{"s":"MMC","t":32748,"v":43.7},{"s":"MMC","t":32760,"v":44.4},{"s":"MMC","t":32777,"v":43.7},{"s":"MMC","t":32785,"v":40.9},{"s":"MMC","t":32793,"v":32.3},{"s":"MMC","t":32801,"v":32.3},{"s":"MMC","t":32809,"v":31.3},{"s":"MMC","t":32813,"v":32.3},{"s":"MMC","t":32822,"v":27.3},{"s":"MMC","t":32834,"v":24.7},{"s":"MMC","t":32850,"v":21.6},{"s":"MMC","t":32867,"v":18.9},{"s":"MMC","t":32883,"v":17.6},{"s":"MMC","t":32887,"v":18.7},{"s":"MMC","t":32891,"v":32.3},{"s":"MMC","t":32897,"v":45.2},{"s":"MMC","t":32908,"v":67.7},{"s":"MMC","t":32914,"v":77.5},{"s":"MMC","t":32920,"v":63.2},{"s":"MMC","t":32928,"v":50},{"s":"MMC","t":32940,"v":39.5},{"s":"MMC","t":32953,"v":32.3},{"s":"MMC","t":32965,"v":28.3},{"s":"MMC","t":32977,"v":26},{"s":"MMC","t":32981,"v":25.5},{"s":"MMC","t":32983,"v":31.3},{"s":"MMC","t":32990,"v":63.2},{"s":"MMC","t":32998,"v":108},{"s":"MMC","t":33004,"v":128},{"s":"MMC","t":33010,"v":101},{"s":"MMC","t":33022,"v":63.2},{"s":"MMC","t":33040,"v":55},{"s":"MMC","t":33043,"v":75},{"s":"MMC","t":33045,"v":48.4},{"s":"MMC","t":33059,"v":43.7},{"s":"MMC","t":33080,"v":37},{"s":"MMC","t":33096,"v":30.2},{"s":"MMC","t":33106,"v":27.3},{"s":"MMC","t":33130,"v":24.7},{"s":"MMC","t":33154,"v":21.6},{"s":"MMC","t":33178,"v":18.2},{"s":"MMC","t":33202,"v":16.2},{"s":"MMC","t":33230,"v":15.1},{"s":"MMC","t":33268,"v":14.2},{"s":"MMC","t":33273,"v":25.5},{"s":"MMC","t":33282,"v":50},{"s":"MMC","t":33290,"v":65.5},{"s":"MMC","t":33300,"v":45.2},
{"s":"WAM","t":32000,"v":6.76},{"s":"WAM","t":32015,"v":6.64},{"s":"WAM","t":32030,"v":6.6},{"s":"WAM","t":32050,"v":6.53},{"s":"WAM","t":32069,"v":6.6},{"s":"WAM","t":32080,"v":6.87},{"s":"WAM","t":32088,"v":7.86},{"s":"WAM","t":32096,"v":9.6},{"s":"WAM","t":32101,"v":13.5},{"s":"WAM","t":32105,"v":18.9},{"s":"WAM","t":32115,"v":23},{"s":"WAM","t":32124,"v":24.7},{"s":"WAM","t":32130,"v":26},{"s":"WAM","t":32138,"v":22.3},{"s":"WAM","t":32149,"v":17.6},{"s":"WAM","t":32161,"v":13.9},{"s":"WAM","t":32168,"v":12.6},{"s":"WAM","t":32176,"v":13.5},{"s":"WAM","t":32183,"v":17},{"s":"WAM","t":32191,"v":33.4},{"s":"WAM","t":32197,"v":38.9},{"s":"WAM","t":32201,"v":39.8},{"s":"WAM","t":32208,"v":37},{"s":"WAM","t":32218,"v":30.2},{"s":"WAM","t":32229,"v":24.7},{"s":"WAM","t":32241,"v":18.9},{"s":"WAM","t":32252,"v":15.4},{"s":"WAM","t":32268,"v":13},{"s":"WAM","t":32283,"v":11.8},{"s":"WAM","t":32298,"v":11},{"s":"WAM","t":32310,"v":10.8},{"s":"WAM","t":32321,"v":11},{"s":"WAM","t":32336,"v":11.2},{"s":"WAM","t":32356,"v":11.2},{"s":"WAM","t":32375,"v":11.4},{"s":"WAM","t":32386,"v":10.3},{"s":"WAM","t":32401,"v":9.3},{"s":"WAM","t":32413,"v":9.1},{"s":"WAM","t":32432,"v":8.7},{"s":"WAM","t":32451,"v":8.5},{"s":"WAM","t":32470,"v":8.4},{"s":"WAM","t":32476,"v":8.5},{"s":"WAM","t":32479,"v":12},{"s":"WAM","t":32483,"v":25},{"s":"WAM","t":32488,"v":70},{"s":"WAM","t":32494,"v":124},{"s":"WAM","t":32498,"v":163},{"s":"WAM","t":32502,"v":133},{"s":"WAM","t":32504,"v":157},{"s":"WAM","t":32508,"v":318},{"s":"WAM","t":32514,"v":252},{"s":"WAM","t":32523,"v":213},{"s":"WAM","t":32531,"v":152},{"s":"WAM","t":32539,"v":124},{"s":"WAM","t":32555,"v":88.7},{"s":"WAM","t":32572,"v":67.7},{"s":"WAM","t":32588,"v":53.5},{"s":"WAM","t":32596,"v":59.2},{"s":"WAM","t":32598,"v":48.4},{"s":"WAM","t":32613,"v":42.3},{"s":"WAM","t":32623,"v":39.5},{"s":"WAM","t":32629,"v":53.5},{"s":"WAM","t":32637,"v":124},{"s":"WAM","t":32641,"v":128},{"s":"WAM","t":32647,"v":116},{"s":"WAM","t":32654,"v":95},{"s":"WAM","t":32662,"v":82.8},{"s":"WAM","t":32674,"v":72},{"s":"WAM","t":32680,"v":72},{"s":"WAM","t":32682,"v":63.2},{"s":"WAM","t":32695,"v":67.7},{"s":"WAM","t":32711,"v":63.2},{"s":"WAM","t":32727,"v":55.3},{"s":"WAM","t":32744,"v":50},{"s":"WAM","t":32760,"v":50.8},{"s":"WAM","t":32777,"v":50},{"s":"WAM","t":32785,"v":45.2},{"s":"WAM","t":32793,"v":37},{"s":"WAM","t":32805,"v":32.3},{"s":"WAM","t":32818,"v":28.3},{"s":"WAM","t":32834,"v":24.7},{"s":"WAM","t":32850,"v":22.3},{"s":"WAM","t":32867,"v":20.5},{"s":"WAM","t":32883,"v":19.5},{"s":"WAM","t":32891,"v":32.3},{"s":"WAM","t":32899,"v":48.4},{"s":"WAM","t":32908,"v":72.4},{"s":"WAM","t":32914,"v":82.8},{"s":"WAM","t":32924,"v":70},{"s":"WAM","t":32936,"v":55.3},{"s":"WAM","t":32949,"v":45.2},{"s":"WAM","t":32965,"v":37},{"s":"WAM","t":32979,"v":32.3},{"s":"WAM","t":32986,"v":37},{"s":"WAM","t":32992,"v":63.2},{"s":"WAM","t":32998,"v":116},{"s":"WAM","t":33004,"v":142},{"s":"WAM","t":33010,"v":116},{"s":"WAM","t":33022,"v":72.4},{"s":"WAM","t":33039,"v":57.3},{"s":"WAM","t":33045,"v":48},{"s":"WAM","t":33047,"v":63},{"s":"WAM","t":33063,"v":51.8},{"s":"WAM","t":33080,"v":42.3},{"s":"WAM","t":33096,"v":35.7},{"s":"WAM","t":33106,"v":33},{"s":"WAM","t":33154,"v":23},{"s":"WAM","t":33202,"v":18.2},{"s":"WAM","t":33249,"v":15.1},{"s":"WAM","t":33268,"v":13.9},{"s":"WAM","t":33273,"v":30},{"s":"WAM","t":33283,"v":48.4},{"s":"WAM","t":33292,"v":59.2},{"s":"WAM","t":33300,"v":52},
{"s":"SMA","t":32000,"v":9.95},{"s":"SMA","t":32015,"v":9.9},{"s":"SMA","t":32038,"v":9.7},{"s":"SMA","t":32050,"v":9.7},{"s":"SMA","t":32057,"v":9.8},{"s":"SMA","t":32073,"v":9.8},{"s":"SMA","t":32078,"v":10.3},{"s":"SMA","t":32084,"v":11.2},{"s":"SMA","t":32094,"v":11.8},{"s":"SMA","t":32099,"v":15.4},{"s":"SMA","t":32107,"v":23.9},{"s":"SMA","t":32115,"v":26.4},{"s":"SMA","t":32122,"v":26.8},{"s":"SMA","t":32132,"v":26},{"s":"SMA","t":32141,"v":21.6},{"s":"SMA","t":32153,"v":17},{"s":"SMA","t":32164,"v":14.4},{"s":"SMA","t":32170,"v":13.9},{"s":"SMA","t":32178,"v":14.6},{"s":"SMA","t":32183,"v":16.5},{"s":"SMA","t":32189,"v":26.4},{"s":"SMA","t":32195,"v":34.5},{"s":"SMA","t":32203,"v":34.5},{"s":"SMA","t":32212,"v":30.2},{"s":"SMA","t":32222,"v":24.7},{"s":"SMA","t":32233,"v":19.5},{"s":"SMA","t":32245,"v":16.5},{"s":"SMA","t":32260,"v":14.4},{"s":"SMA","t":32279,"v":13.2},{"s":"SMA","t":32298,"v":12.6},{"s":"SMA","t":32317,"v":12.6},{"s":"SMA","t":32329,"v":13},{"s":"SMA","t":32344,"v":13.2},{"s":"SMA","t":32359,"v":13},{"s":"SMA","t":32375,"v":13},{"s":"SMA","t":32382,"v":12.6},{"s":"SMA","t":32398,"v":11.8},{"s":"SMA","t":32413,"v":11.2},{"s":"SMA","t":32432,"v":10.9},{"s":"SMA","t":32451,"v":10.9},{"s":"SMA","t":32470,"v":11.1},{"s":"SMA","t":32477,"v":11.4},{"s":"SMA","t":32481,"v":15},{"s":"SMA","t":32485,"v":35},{"s":"SMA","t":32490,"v":90},{"s":"SMA","t":32496,"v":150},{"s":"SMA","t":32500,"v":157},{"s":"SMA","t":32504,"v":142},{"s":"SMA","t":32508,"v":298},{"s":"SMA","t":32514,"v":227},{"s":"SMA","t":32523,"v":142},{"s":"SMA","t":32529,"v":124},{"s":"SMA","t":32535,"v":82.8},{"s":"SMA","t":32539,"v":108},{"s":"SMA","t":32547,"v":82.8},{"s":"SMA","t":32555,"v":67.7},{"s":"SMA","t":32563,"v":48.4},{"s":"SMA","t":32566,"v":72},{"s":"SMA","t":32580,"v":57.3},{"s":"SMA","t":32596,"v":46.8},{"s":"SMA","t":32613,"v":42.3},{"s":"SMA","t":32623,"v":40.3},{"s":"SMA","t":32629,"v":50},{"s":"SMA","t":32637,"v":105},{"s":"SMA","t":32643,"v":112},{"s":"SMA","t":32650,"v":95},{"s":"SMA","t":32658,"v":77.5},{"s":"SMA","t":32666,"v":67.7},{"s":"SMA","t":32678,"v":50.8},{"s":"SMA","t":32680,"v":63.2},{"s":"SMA","t":32682,"v":48.4},{"s":"SMA","t":32695,"v":51.8},{"s":"SMA","t":32711,"v":55.3},{"s":"SMA","t":32727,"v":57.3},{"s":"SMA","t":32740,"v":63.2},{"s":"SMA","t":32752,"v":82.8},{"s":"SMA","t":32764,"v":88.7},{"s":"SMA","t":32777,"v":87},{"s":"SMA","t":32785,"v":77.5},{"s":"SMA","t":32793,"v":63.2},{"s":"SMA","t":32805,"v":48.4},{"s":"SMA","t":32818,"v":39.5},{"s":"SMA","t":32834,"v":32.3},{"s":"SMA","t":32850,"v":27.3},{"s":"SMA","t":32867,"v":23.9},{"s":"SMA","t":32883,"v":22.3},{"s":"SMA","t":32891,"v":35},{"s":"SMA","t":32899,"v":59.2},{"s":"SMA","t":32908,"v":75},{"s":"SMA","t":32914,"v":82.8},{"s":"SMA","t":32924,"v":72.4},{"s":"SMA","t":32936,"v":57.3},{"s":"SMA","t":32949,"v":45.2},{"s":"SMA","t":32965,"v":35.7},{"s":"SMA","t":32979,"v":29.7},{"s":"SMA","t":32986,"v":34.3},{"s":"SMA","t":32992,"v":63.2},{"s":"SMA","t":32998,"v":105},{"s":"SMA","t":33006,"v":133},{"s":"SMA","t":33012,"v":105},{"s":"SMA","t":33022,"v":72.4},{"s":"SMA","t":33039,"v":51.8},{"s":"SMA","t":33047,"v":48.4},{"s":"SMA","t":33063,"v":48.4},{"s":"SMA","t":33080,"v":39.5},{"s":"SMA","t":33096,"v":34.3},{"s":"SMA","t":33154,"v":24.7},{"s":"SMA","t":33202,"v":20.9},{"s":"SMA","t":33249,"v":17.9},{"s":"SMA","t":33268,"v":17.1},{"s":"SMA","t":33273,"v":45.2},{"s":"SMA","t":33283,"v":67.7},{"s":"SMA","t":33297,"v":79},{"s":"SMA","t":33300,"v":75},
{"s":"OHD-cal","t":32000,"v":5.71},{"s":"OHD-cal","t":32030,"v":5.71},{"s":"OHD-cal","t":32050,"v":5.67},{"s":"OHD-cal","t":32069,"v":5.67},{"s":"OHD-cal","t":32090,"v":5.67},{"s":"OHD-cal","t":32096,"v":6},{"s":"OHD-cal","t":32101,"v":7.35},{"s":"OHD-cal","t":32107,"v":10.3},{"s":"OHD-cal","t":32113,"v":14.4},{"s":"OHD-cal","t":32118,"v":17},{"s":"OHD-cal","t":32122,"v":17.9},{"s":"OHD-cal","t":32130,"v":16.6},{"s":"OHD-cal","t":32141,"v":13.5},{"s":"OHD-cal","t":32153,"v":11.4},{"s":"OHD-cal","t":32164,"v":9.6},{"s":"OHD-cal","t":32172,"v":8.8},{"s":"OHD-cal","t":32180,"v":9.6},{"s":"OHD-cal","t":32185,"v":13.5},{"s":"OHD-cal","t":32191,"v":24.7},{"s":"OHD-cal","t":32197,"v":34.5},{"s":"OHD-cal","t":32204,"v":37.9},{"s":"OHD-cal","t":32212,"v":35.7},{"s":"OHD-cal","t":32222,"v":28.3},{"s":"OHD-cal","t":32233,"v":21.6},{"s":"OHD-cal","t":32245,"v":17.6},{"s":"OHD-cal","t":32260,"v":14.4},{"s":"OHD-cal","t":32279,"v":12.4},{"s":"OHD-cal","t":32298,"v":11.4},{"s":"OHD-cal","t":32317,"v":11},{"s":"OHD-cal","t":32336,"v":10.9},{"s":"OHD-cal","t":32356,"v":10.8},{"s":"OHD-cal","t":32375,"v":10.7},{"s":"OHD-cal","t":32394,"v":10},{"s":"OHD-cal","t":32413,"v":9.3},{"s":"OHD-cal","t":32432,"v":8.8},{"s":"OHD-cal","t":32451,"v":8.7},{"s":"OHD-cal","t":32470,"v":8.5},{"s":"OHD-cal","t":32477,"v":8.7},{"s":"OHD-cal","t":32480,"v":9.5},{"s":"OHD-cal","t":32485,"v":12},{"s":"OHD-cal","t":32490,"v":17},{"s":"OHD-cal","t":32494,"v":45},{"s":"OHD-cal","t":32498,"v":340},{"s":"OHD-cal","t":32502,"v":431},{"s":"OHD-cal","t":32506,"v":519},{"s":"OHD-cal","t":32510,"v":546},{"s":"OHD-cal","t":32514,"v":501},{"s":"OHD-cal","t":32518,"v":390},{"s":"OHD-cal","t":32523,"v":278},{"s":"OHD-cal","t":32529,"v":213},{"s":"OHD-cal","t":32535,"v":152},{"s":"OHD-cal","t":32543,"v":124},{"s":"OHD-cal","t":32555,"v":95},{"s":"OHD-cal","t":32572,"v":72.4},{"s":"OHD-cal","t":32588,"v":55.3},{"s":"OHD-cal","t":32604,"v":48.4},{"s":"OHD-cal","t":32617,"v":43.7},{"s":"OHD-cal","t":32625,"v":43},{"s":"OHD-cal","t":32631,"v":50},{"s":"OHD-cal","t":32641,"v":88.7},{"s":"OHD-cal","t":32647,"v":120},{"s":"OHD-cal","t":32654,"v":135},{"s":"OHD-cal","t":32662,"v":116},{"s":"OHD-cal","t":32670,"v":95},{"s":"OHD-cal","t":32682,"v":75},{"s":"OHD-cal","t":32695,"v":66},{"s":"OHD-cal","t":32711,"v":59.2},{"s":"OHD-cal","t":32727,"v":53.5},{"s":"OHD-cal","t":32744,"v":48.4},{"s":"OHD-cal","t":32760,"v":42.3},{"s":"OHD-cal","t":32777,"v":37},{"s":"OHD-cal","t":32793,"v":34},{"s":"OHD-cal","t":32809,"v":35},{"s":"OHD-cal","t":32822,"v":35.7},{"s":"OHD-cal","t":32834,"v":33.4},{"s":"OHD-cal","t":32850,"v":29.2},{"s":"OHD-cal","t":32867,"v":26.4},{"s":"OHD-cal","t":32883,"v":25.1},{"s":"OHD-cal","t":32891,"v":32.3},{"s":"OHD-cal","t":32899,"v":53.5},{"s":"OHD-cal","t":32908,"v":77.5},{"s":"OHD-cal","t":32916,"v":85.7},{"s":"OHD-cal","t":32922,"v":85.7},{"s":"OHD-cal","t":32932,"v":72.4},{"s":"OHD-cal","t":32949,"v":55.3},{"s":"OHD-cal","t":32965,"v":45.2},{"s":"OHD-cal","t":32979,"v":38.8},{"s":"OHD-cal","t":32986,"v":42.3},{"s":"OHD-cal","t":32994,"v":88.7},{"s":"OHD-cal","t":33002,"v":128},{"s":"OHD-cal","t":33010,"v":140},{"s":"OHD-cal","t":33018,"v":133},{"s":"OHD-cal","t":33031,"v":108},{"s":"OHD-cal","t":33047,"v":80},{"s":"OHD-cal","t":33063,"v":63.2},{"s":"OHD-cal","t":33080,"v":51.8},{"s":"OHD-cal","t":33096,"v":43.7},{"s":"OHD-cal","t":33106,"v":39},{"s":"OHD-cal","t":33130,"v":33},{"s":"OHD-cal","t":33154,"v":29},{"s":"OHD-cal","t":33178,"v":26.4},{"s":"OHD-cal","t":33202,"v":24.8},{"s":"OHD-cal","t":33240,"v":21.8},{"s":"OHD-cal","t":33268,"v":20},{"s":"OHD-cal","t":33275,"v":25},{"s":"OHD-cal","t":33287,"v":48.4},{"s":"OHD-cal","t":33297,"v":61},{"s":"OHD-cal","t":33300,"v":60}
]
},
"vconcat": [
{
"title": {"text": "x 10⁴", "orient": "bottom", "anchor": "end", "offset": -6},
"vconcat": [{
"width": 1133, "height": 664,
"title": {"text": "Illinoise river Basin at Watts (Nov-Dec 1996)", "anchor": "middle", "frame": "group", "offset": 7},
"data": {"name": "top"},
"resolve": {"axis": {"x": "independent", "y": "independent"}},
"layer": [
{"transform": [{"filter": "datum.s === 'Observed'"}],
 "mark": {"type": "line", "strokeWidth": 6, "clip": true},
 "encoding": {
  "x": {"field": "t", "type": "quantitative", "scale": {"domain": [30000, 31270.6], "nice": false, "zero": false},
        "axis": {"orient": "bottom", "values": [30000,30200,30400,30600,30800,31000,31200], "labelExpr": "datum.value / 10000", "title": "Time (Hour)", "tickSize": -13, "labelPadding": 22, "titlePadding": 10}},
  "y": {"field": "v", "type": "quantitative", "scale": {"type": "log", "domain": [8.04, 1000], "nice": false},
        "axis": {"orient": "left", "values": [9,10,20,30,40,50,60,70,80,90,100,200,300,400,500,600,700,800,900,1000], "labelExpr": "datum.value == 1000 ? '10³' : datum.value == 100 ? '10²' : datum.value == 10 ? '10¹' : ''", "tickSize": {"condition": {"test": "datum.value == 10 || datum.value == 100 || datum.value == 1000", "value": -10}, "value": -6}, "labelPadding": 15.5, "title": "Transformed Flow (CMS)", "titleFont": "Liberation Sans", "titleFontSize": 19, "titlePadding": 6}},
  "color": {"field": "s", "type": "nominal",
        "scale": {"domain": ["Observed","MMSE","MMC","WAM","SMA","OHD-cal"], "range": ["#0000ff","#008000","#ff0000","#00bfbf","#bf00bf","#263a8c"]},
        "legend": {"title": null, "orient": "none", "legendX": 978.5, "legendY": 13,
          "encode": {"symbols": {"update": {
            "shape": {"signal": "datum.value === 'Observed' ? 'M-0.25,0a0.25,0.25 0 1,0 0.5,0a0.25,0.25 0 1,0 -0.5,0' : (datum.value === 'MMC' || datum.value === 'SMA') ? 'M-2.3,0H2.3' : 'M-2.3,0H2.3M-0.22,0a0.22,0.22 0 1,0 0.44,0a0.22,0.22 0 1,0 -0.44,0'"},
            "fill": {"signal": "datum.value === 'Observed' ? '#0000ff' : datum.value === 'MMSE' ? '#008000' : datum.value === 'MMC' ? '#ff0000' : datum.value === 'WAM' ? '#00bfbf' : datum.value === 'SMA' ? '#bf00bf' : '#263a8c'"},
            "stroke": {"signal": "datum.value === 'Observed' ? '#0000ff' : datum.value === 'MMSE' ? '#008000' : datum.value === 'MMC' ? '#ff0000' : datum.value === 'WAM' ? '#00bfbf' : datum.value === 'SMA' ? '#bf00bf' : '#263a8c'"},
            "opacity": {"value": 1}, "strokeWidth": {"value": 1.5}}}}}}
 }},
{"transform": [{"filter": "datum.s === 'Observed'"}],
 "mark": {"type": "point", "filled": true, "size": 26, "opacity": 1, "clip": true},
 "encoding": {
  "x": {"field": "t", "type": "quantitative", "axis": {"orient": "top", "values": [30000,30200,30400,30600,30800,31000,31200], "labels": false, "title": null, "tickSize": -13, "domain": false}},
  "y": {"field": "v", "type": "quantitative", "axis": {"orient": "right", "values": [9,10,20,30,40,50,60,70,80,90,100,200,300,400,500,600,700,800,900,1000], "labels": false, "title": null, "tickSize": {"condition": {"test": "datum.value == 10 || datum.value == 100 || datum.value == 1000", "value": -10}, "value": -6}, "domain": false}},
  "color": {"field": "s", "type": "nominal"}
 }},
{"transform": [{"filter": "datum.s !== 'Observed'"}],
 "mark": {"type": "line", "strokeWidth": 1.4, "clip": true},
 "encoding": {
  "x": {"field": "t", "type": "quantitative", "axis": null},
  "y": {"field": "v", "type": "quantitative", "axis": null},
  "color": {"field": "s", "type": "nominal"}
 }}
]
}]
},
{
"title": {"text": "x 10⁴", "orient": "bottom", "anchor": "end", "offset": -6},
"vconcat": [{
"width": 1133, "height": 685,
"title": {"text": "Illinoise river Basin at Watts (Feb-Mar 1997-forecast period)", "anchor": "middle", "frame": "group", "offset": 7},
"data": {"name": "bot"},
"resolve": {"axis": {"x": "independent", "y": "independent"}},
"layer": [
{"transform": [{"filter": "datum.s === 'Observed'"}],
 "mark": {"type": "line", "strokeWidth": 6, "clip": true},
 "encoding": {
  "x": {"field": "t", "type": "quantitative", "scale": {"domain": [32000, 33300], "nice": false, "zero": false},
        "axis": {"orient": "bottom", "values": [32000,32200,32400,32600,32800,33000,33200], "labelExpr": "datum.value / 10000", "title": "Time (Hour)", "tickSize": -13, "labelPadding": 22, "titlePadding": 10}},
  "y": {"field": "v", "type": "quantitative", "scale": {"type": "log", "domain": [1, 1000], "nice": false},
        "axis": {"orient": "left", "values": [1,2,3,4,5,6,7,8,9,10,20,30,40,50,60,70,80,90,100,200,300,400,500,600,700,800,900,1000], "labelExpr": "datum.value == 1000 ? '10³' : datum.value == 100 ? '10²' : datum.value == 10 ? '10¹' : datum.value == 1 ? '10⁰' : ''", "tickSize": {"condition": {"test": "datum.value == 1 || datum.value == 10 || datum.value == 100 || datum.value == 1000", "value": -10}, "value": -6}, "labelPadding": 15.5, "title": "Transformed Flow (CMS)", "titleFont": "Liberation Sans", "titleFontSize": 19, "titlePadding": 6}},
  "color": {"field": "s", "type": "nominal",
        "scale": {"domain": ["Observed","MMSE","MMC","WAM","SMA","OHD-cal"], "range": ["#0000ff","#008000","#ff0000","#00bfbf","#bf00bf","#263a8c"]},
        "legend": {"title": null, "orient": "none", "legendX": 978.5, "legendY": 14,
          "encode": {"symbols": {"update": {
            "shape": {"signal": "datum.value === 'Observed' ? 'M-0.25,0a0.25,0.25 0 1,0 0.5,0a0.25,0.25 0 1,0 -0.5,0' : (datum.value === 'MMC' || datum.value === 'SMA') ? 'M-2.3,0H2.3' : 'M-2.3,0H2.3M-0.22,0a0.22,0.22 0 1,0 0.44,0a0.22,0.22 0 1,0 -0.44,0'"},
            "fill": {"signal": "datum.value === 'Observed' ? '#0000ff' : datum.value === 'MMSE' ? '#008000' : datum.value === 'MMC' ? '#ff0000' : datum.value === 'WAM' ? '#00bfbf' : datum.value === 'SMA' ? '#bf00bf' : '#263a8c'"},
            "stroke": {"signal": "datum.value === 'Observed' ? '#0000ff' : datum.value === 'MMSE' ? '#008000' : datum.value === 'MMC' ? '#ff0000' : datum.value === 'WAM' ? '#00bfbf' : datum.value === 'SMA' ? '#bf00bf' : '#263a8c'"},
            "opacity": {"value": 1}, "strokeWidth": {"value": 1.5}}}}}}
 }},
{"transform": [{"filter": "datum.s === 'Observed'"}],
 "mark": {"type": "point", "filled": true, "size": 26, "opacity": 1, "clip": true},
 "encoding": {
  "x": {"field": "t", "type": "quantitative", "axis": {"orient": "top", "values": [32000,32200,32400,32600,32800,33000,33200], "labels": false, "title": null, "tickSize": -13, "domain": false}},
  "y": {"field": "v", "type": "quantitative", "axis": {"orient": "right", "values": [1,2,3,4,5,6,7,8,9,10,20,30,40,50,60,70,80,90,100,200,300,400,500,600,700,800,900,1000], "labels": false, "title": null, "tickSize": {"condition": {"test": "datum.value == 1 || datum.value == 10 || datum.value == 100 || datum.value == 1000", "value": -10}, "value": -6}, "domain": false}},
  "color": {"field": "s", "type": "nominal"}
 }},
{"transform": [{"filter": "datum.s !== 'Observed'"}],
 "mark": {"type": "line", "strokeWidth": 1.4, "clip": true},
 "encoding": {
  "x": {"field": "t", "type": "quantitative", "axis": null},
  "y": {"field": "v", "type": "quantitative", "axis": null},
  "color": {"field": "s", "type": "nominal"}
 }}
]
}]
}
],
"config": {
 "view": {"stroke": "black", "strokeWidth": 1.5},
 "axis": {"labelFont": "Liberation Sans", "labelFontSize": 15.5, "labelColor": "black", "titleFont": "Liberation Sans", "titleFontSize": 15.5, "titleFontWeight": "normal", "titleColor": "black", "domainColor": "black", "domainWidth": 1.5, "tickColor": "black", "tickWidth": 1.2, "grid": false, "labelFlush": false, "labelOverlap": false, "labelBound": false},
 "title": {"font": "Liberation Sans", "fontSize": 15.5, "fontWeight": "normal", "color": "black"},
 "legend": {"strokeColor": "black", "fillColor": "white", "padding": 7, "rowPadding": 7.2, "symbolSize": 400, "symbolStrokeWidth": 1.5, "symbolOffset": 15, "labelOffset": 17, "labelFont": "Liberation Sans", "labelFontSize": 15.5, "labelColor": "black", "labelLimit": 300}
}
}
